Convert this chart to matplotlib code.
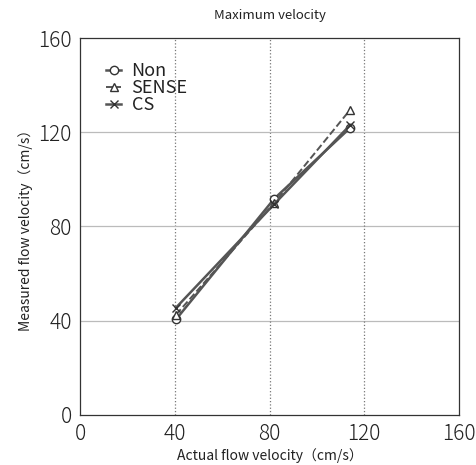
import matplotlib
matplotlib.use("Agg")
import matplotlib.pyplot as plt

plt.rcParams['font.family'] = ['Noto Sans CJK JP', 'DejaVu Sans']

# data
actual = [40.5, 82, 114]
non = [40.5, 91.8, 121.8]
sense = [42.5, 90.0, 129.5]
cs = [45.5, 89.5, 123.0]

ticks = [0, 40, 80, 120, 160]

fig = plt.figure(figsize=(4.77, 4.65), dpi=100)
ax = fig.add_axes([0.168, 0.108, 0.794, 0.81])

ax.plot(actual, non, color='#555555', lw=1.8, ls='-', marker='o', ms=6,
        mfc='white', mec='#333333', mew=1.0, label='Non')
ax.plot(actual, sense, color='#555555', lw=1.4, ls='--', marker='^', ms=6,
        mfc='white', mec='#333333', mew=1.0, label='SENSE')
ax.plot(actual, cs, color='#555555', lw=1.8, ls='-', marker='x', ms=6,
        mec='#333333', mew=1.0, label='CS')

ax.set_xlim(0, 160)
ax.set_ylim(0, 160)
ax.set_xticks(ticks)
ax.set_yticks(ticks)
ax.tick_params(length=0, labelsize=15, pad=6, labelcolor='#222222')
for lbl in ax.get_xticklabels() + ax.get_yticklabels():
    lbl.set_fontweight('light')

for v in ticks[1:-1]:
    ax.axvline(v, color='#777777', ls=':', lw=0.9, zorder=0)
    ax.axhline(v, color='#bbbbbb', ls='-', lw=0.9, zorder=0)

for s in ax.spines.values():
    s.set_color('#333333')
    s.set_linewidth(0.9)

ax.set_xlabel('Actual flow velocity（cm/s）', fontsize=10, labelpad=2,
              color='#222222')
ax.set_ylabel('Measured flow velocity（cm/s）', fontsize=10, labelpad=4,
              color='#222222')
ax.set_title('Maximum velocity', fontsize=9.5, pad=14, color='#222222')

leg = ax.legend(loc='upper left', bbox_to_anchor=(0.05, 0.955), frameon=False,
                fontsize=13, handlelength=0.8, handletextpad=0.6,
                labelspacing=-0.05, borderaxespad=0)
for t in leg.get_texts():
    t.set_color('#222222')

fig.savefig('out.png', dpi=100)
